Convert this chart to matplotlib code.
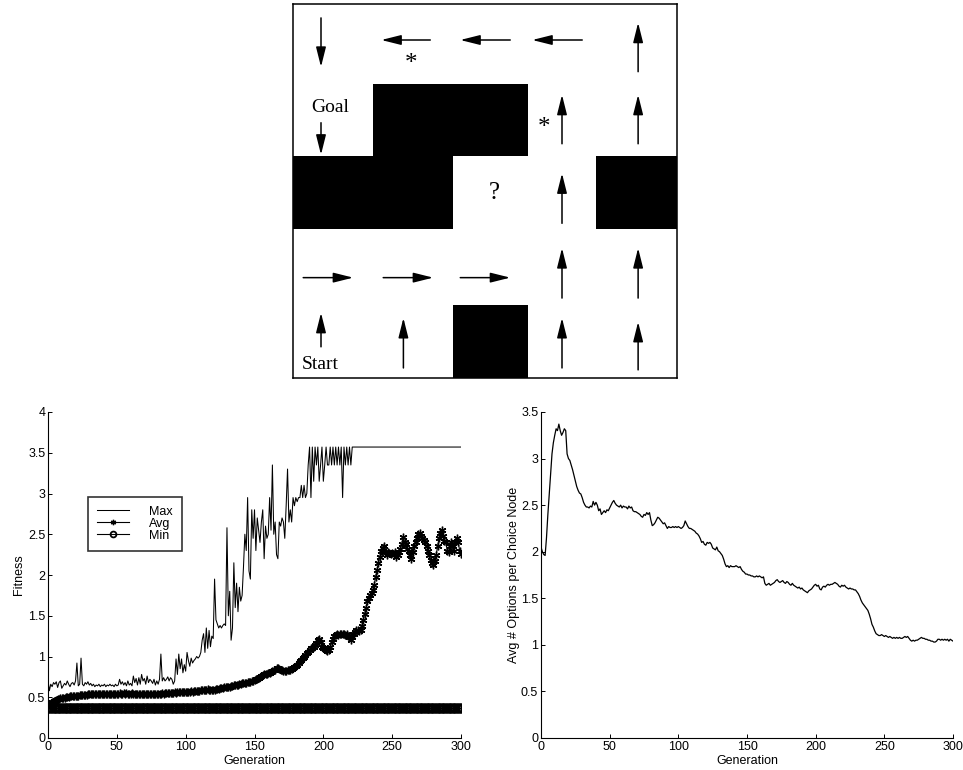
import matplotlib.pyplot as plt
from matplotlib.patches import Rectangle
from matplotlib.ticker import FormatStrFormatter
import numpy as np

plt.rcParams['font.family'] = ['Liberation Sans', 'DejaVu Sans']

# ---- maze (grid world) ----
col_edges = [293, 373, 453, 528, 596, 677]
row_edges = [4, 84, 156, 229, 305, 378]
wall_cells = [(1, 1), (1, 2), (2, 0), (2, 1), (2, 4), (4, 2)]
# row, col, direction, x fraction in cell, y fraction in cell, length (px)
arrow_cells = [
    (0, 0, 'down', 0.35, 0.48, 49), (0, 1, 'left', 0.41, 0.45, 49),
    (0, 2, 'left', 0.43, 0.45, 50), (0, 3, 'left', 0.43, 0.45, 50),
    (0, 4, 'up', 0.52, 0.54, 49), (1, 0, 'down', 0.35, 0.76, 32),
    (1, 3, 'up', 0.50, 0.49, 49), (1, 4, 'up', 0.52, 0.49, 49),
    (2, 3, 'up', 0.50, 0.58, 50), (3, 0, 'right', 0.44, 0.64, 50),
    (3, 1, 'right', 0.44, 0.64, 50), (3, 2, 'right', 0.43, 0.64, 50),
    (3, 3, 'up', 0.50, 0.58, 50), (3, 4, 'up', 0.52, 0.58, 50),
    (4, 0, 'up', 0.35, 0.34, 34), (4, 1, 'up', 0.38, 0.52, 50),
    (4, 3, 'up', 0.50, 0.52, 50), (4, 4, 'up', 0.52, 0.56, 48),
]
# row, col, text, x fraction, y fraction, font size
cell_labels = [(1, 0, 'Goal', 0.46, 0.33, 14), (4, 0, 'Start', 0.34, 0.82, 14),
               (0, 1, '*', 0.48, 0.75, 18), (1, 3, '*', 0.24, 0.61, 18),
               (2, 2, '?', 0.55, 0.51, 18)]

# ---- fitness per generation ----
generations = np.arange(301)
max_fit = [
    0.71, 0.58, 0.66, 0.63, 0.68, 0.66, 0.69, 0.62, 0.68, 0.70,
    0.61, 0.64, 0.67, 0.65, 0.70, 0.66, 0.63, 0.67, 0.68, 0.65,
    0.70, 0.92, 0.64, 0.66, 0.98, 0.66, 0.64, 0.68, 0.66, 0.69,
    0.65, 0.67, 0.64, 0.66, 0.63, 0.65, 0.64, 0.66, 0.63, 0.65,
    0.64, 0.66, 0.63, 0.65, 0.64, 0.66, 0.64, 0.65, 0.63, 0.66,
    0.64, 0.65, 0.72, 0.66, 0.69, 0.65, 0.68, 0.64, 0.70, 0.65,
    0.67, 0.64, 0.76, 0.68, 0.73, 0.65, 0.74, 0.66, 0.78, 0.70,
    0.73, 0.66, 0.76, 0.68, 0.72, 0.70, 0.67, 0.72, 0.65, 0.70,
    0.66, 0.72, 1.03, 0.70, 0.74, 0.70, 0.72, 0.75, 0.70, 0.74,
    0.72, 0.66, 0.70, 0.97, 0.78, 1.03, 0.85, 0.97, 0.80, 0.90,
    0.82, 1.05, 0.95, 0.88, 0.98, 0.92, 0.95, 0.97, 1.00, 0.98,
    1.00, 1.05, 1.20, 1.28, 1.05, 1.35, 1.10, 1.32, 1.12, 1.25,
    1.22, 1.95, 1.45, 1.40, 1.35, 1.38, 1.35, 1.38, 1.40, 1.38,
    2.58, 1.50, 1.80, 1.20, 1.35, 2.15, 1.60, 1.90, 1.55, 1.85,
    1.68, 1.75, 2.10, 2.50, 2.30, 2.95, 2.05, 1.95, 2.80, 2.45,
    2.80, 2.30, 2.70, 2.55, 2.40, 2.65, 2.80, 2.20, 2.60, 2.45,
    2.50, 2.95, 2.55, 3.35, 2.50, 2.65, 2.25, 2.20, 2.65, 2.60,
    2.70, 2.65, 2.45, 2.85, 3.30, 2.65, 2.80, 2.65, 2.95, 2.85,
    2.95, 2.90, 2.95, 2.95, 3.10, 2.95, 3.10, 2.95, 3.00, 3.35,
    3.57, 2.95, 3.57, 3.15, 3.57, 3.35, 3.57, 3.15, 3.35, 3.57,
    3.15, 3.35, 3.57, 3.35, 3.35, 3.57, 3.35, 3.57, 3.35, 3.57,
    3.35, 3.57, 3.35, 3.57, 2.95, 3.57, 3.35, 3.57, 3.35, 3.57,
    3.35, 3.57] + [3.57] * 79
avg_fit = [
    0.38, 0.41, 0.43, 0.44, 0.45, 0.46, 0.47, 0.475, 0.48, 0.485,
    0.49, 0.49, 0.495, 0.50, 0.50, 0.505, 0.51, 0.51, 0.515, 0.515,
    0.52, 0.52, 0.52, 0.525, 0.525, 0.53, 0.53, 0.53, 0.53, 0.535,
    0.535, 0.535, 0.535, 0.54, 0.54, 0.54, 0.54, 0.54, 0.54, 0.54,
    0.54, 0.545, 0.54, 0.545, 0.54, 0.545, 0.545, 0.54, 0.545, 0.545,
    0.545, 0.545, 0.55, 0.545, 0.545, 0.55, 0.545, 0.55, 0.545, 0.545,
    0.545, 0.55, 0.545, 0.545, 0.54, 0.545, 0.545, 0.54, 0.545, 0.54,
    0.545, 0.54, 0.54, 0.545, 0.54, 0.54, 0.545, 0.54, 0.545, 0.545,
    0.54, 0.545, 0.545, 0.55, 0.545, 0.55, 0.55, 0.55, 0.555, 0.55,
    0.555, 0.555, 0.56, 0.555, 0.56, 0.56, 0.565, 0.56, 0.565, 0.565,
    0.57, 0.565, 0.57, 0.57, 0.575, 0.57, 0.575, 0.575, 0.58, 0.58,
    0.58, 0.585, 0.585, 0.59, 0.59, 0.595, 0.60, 0.595, 0.59, 0.59,
    0.595, 0.595, 0.60, 0.60, 0.605, 0.61, 0.61, 0.615, 0.62, 0.62,
    0.625, 0.63, 0.63, 0.635, 0.64, 0.645, 0.65, 0.65, 0.655, 0.66,
    0.665, 0.67, 0.67, 0.675, 0.68, 0.685, 0.69, 0.69, 0.70, 0.705,
    0.71, 0.72, 0.73, 0.74, 0.75, 0.76, 0.77, 0.78, 0.78, 0.79,
    0.80, 0.80, 0.81, 0.82, 0.83, 0.84, 0.86, 0.86, 0.85, 0.84,
    0.83, 0.82, 0.82, 0.82, 0.83, 0.83, 0.84, 0.85, 0.86, 0.87,
    0.88, 0.90, 0.92, 0.94, 0.96, 0.98, 1.00, 1.02, 1.04, 1.06,
    1.08, 1.10, 1.10, 1.12, 1.14, 1.17, 1.20, 1.21, 1.18, 1.12,
    1.10, 1.09, 1.08, 1.07, 1.08, 1.12, 1.18, 1.22, 1.25, 1.26,
    1.27, 1.26, 1.27, 1.28, 1.27, 1.28, 1.26, 1.27, 1.25, 1.24,
    1.20, 1.24, 1.28, 1.30, 1.32, 1.33, 1.31, 1.33, 1.38, 1.45,
    1.52, 1.60, 1.68, 1.72, 1.76, 1.78, 1.82, 1.88, 1.98, 2.06,
    2.15, 2.22, 2.30, 2.33, 2.36, 2.28, 2.25, 2.28, 2.27, 2.26,
    2.27, 2.26, 2.28, 2.22, 2.24, 2.28, 2.32, 2.38, 2.47, 2.40,
    2.38, 2.32, 2.30, 2.25, 2.20, 2.28, 2.35, 2.40, 2.45, 2.50,
    2.52, 2.48, 2.46, 2.43, 2.40, 2.35, 2.30, 2.25, 2.18, 2.15,
    2.12, 2.17, 2.25, 2.35, 2.45, 2.52, 2.55, 2.48, 2.42, 2.40,
    2.30, 2.28, 2.35, 2.41, 2.35, 2.30, 2.40, 2.46, 2.40, 2.30,
    2.26]
min_fit = [0.37] * 301

# ---- average options per choice node ----
avg_options = [
    2.05, 2.00, 1.97, 1.96, 2.15, 2.40, 2.62, 2.85, 3.05, 3.17,
    3.25, 3.32, 3.30, 3.37, 3.30, 3.25, 3.28, 3.32, 3.30, 3.05,
    3.00, 2.98, 2.93, 2.88, 2.82, 2.76, 2.70, 2.66, 2.63, 2.62,
    2.58, 2.53, 2.50, 2.48, 2.48, 2.47, 2.49, 2.48, 2.54, 2.50,
    2.53, 2.50, 2.44, 2.46, 2.40, 2.42, 2.44, 2.42, 2.45, 2.44,
    2.47, 2.50, 2.53, 2.55, 2.52, 2.50, 2.49, 2.48, 2.50, 2.47,
    2.49, 2.48, 2.48, 2.46, 2.49, 2.47, 2.48, 2.44, 2.43, 2.43,
    2.42, 2.41, 2.40, 2.38, 2.37, 2.40, 2.39, 2.42, 2.40, 2.42,
    2.34, 2.28, 2.29, 2.31, 2.34, 2.37, 2.36, 2.34, 2.32, 2.30,
    2.31, 2.28, 2.25, 2.27, 2.26, 2.26, 2.27, 2.26, 2.27, 2.26,
    2.27, 2.26, 2.25, 2.26, 2.28, 2.33, 2.30, 2.27, 2.25, 2.25,
    2.24, 2.23, 2.22, 2.20, 2.19, 2.17, 2.14, 2.10, 2.11, 2.08,
    2.07, 2.10, 2.09, 2.10, 2.08, 2.04, 2.03, 2.02, 2.05, 2.01,
    2.00, 1.98, 1.96, 1.92, 1.87, 1.84, 1.85, 1.83, 1.85, 1.84,
    1.84, 1.84, 1.85, 1.84, 1.83, 1.84, 1.81, 1.79, 1.78, 1.76,
    1.76, 1.75, 1.75, 1.74, 1.74, 1.73, 1.73, 1.74, 1.73, 1.74,
    1.73, 1.72, 1.73, 1.66, 1.64, 1.65, 1.66, 1.64, 1.65, 1.66,
    1.67, 1.69, 1.70, 1.68, 1.67, 1.68, 1.69, 1.67, 1.66, 1.68,
    1.67, 1.65, 1.64, 1.66, 1.64, 1.63, 1.62, 1.61, 1.62, 1.60,
    1.61, 1.59, 1.58, 1.57, 1.56, 1.58, 1.59, 1.60, 1.62, 1.64,
    1.65, 1.63, 1.64, 1.60, 1.59, 1.62, 1.63, 1.62, 1.64, 1.65,
    1.64, 1.65, 1.65, 1.66, 1.67, 1.66, 1.65, 1.63, 1.62, 1.64,
    1.63, 1.64, 1.62, 1.61, 1.60, 1.61, 1.60, 1.60, 1.59, 1.59,
    1.57, 1.55, 1.52, 1.48, 1.45, 1.43, 1.41, 1.39, 1.37, 1.33,
    1.28, 1.22, 1.19, 1.15, 1.12, 1.11, 1.10, 1.10, 1.11, 1.10,
    1.09, 1.10, 1.09, 1.08, 1.09, 1.08, 1.07, 1.08, 1.07, 1.08,
    1.07, 1.08, 1.07, 1.07, 1.08, 1.09, 1.08, 1.09, 1.07, 1.05,
    1.04, 1.05, 1.04, 1.05, 1.05, 1.06, 1.07, 1.08, 1.07, 1.07,
    1.06, 1.06, 1.05, 1.05, 1.04, 1.04, 1.03, 1.03, 1.04, 1.06,
    1.06, 1.05, 1.06, 1.05, 1.06, 1.05, 1.06, 1.04, 1.06, 1.05,
    1.04]

W, H = 963, 770
fig = plt.figure(figsize=(W / 100, H / 100), dpi=100)

# maze panel, data units are image pixels
axm = fig.add_axes([col_edges[0] / W, 1 - row_edges[-1] / H,
                    (col_edges[-1] - col_edges[0]) / W,
                    (row_edges[-1] - row_edges[0]) / H])
axm.set_xlim(col_edges[0], col_edges[-1])
axm.set_ylim(row_edges[-1], row_edges[0])
axm.set_xticks([])
axm.set_yticks([])
for s in axm.spines.values():
    s.set_linewidth(1.1)

for r, c in wall_cells:
    axm.add_patch(Rectangle((col_edges[c], row_edges[r]),
                            col_edges[c + 1] - col_edges[c],
                            row_edges[r + 1] - row_edges[r],
                            color='black', lw=0))

dirs = {'up': (0, -1), 'down': (0, 1), 'left': (-1, 0), 'right': (1, 0)}
for r, c, d, fx, fy, ln in arrow_cells:
    cx = col_edges[c] + fx * (col_edges[c + 1] - col_edges[c])
    cy = row_edges[r] + fy * (row_edges[r + 1] - row_edges[r])
    dx, dy = dirs[d]
    axm.annotate('', xy=(cx + dx * ln / 2, cy + dy * ln / 2),
                 xytext=(cx - dx * ln / 2, cy - dy * ln / 2),
                 arrowprops=dict(arrowstyle='-|>,head_length=1.2,head_width=0.3',
                                 mutation_scale=10, lw=1.1, color='black',
                                 shrinkA=0, shrinkB=0))

for r, c, txt, fx, fy, fs in cell_labels:
    cx = col_edges[c] + fx * (col_edges[c + 1] - col_edges[c])
    cy = row_edges[r] + fy * (row_edges[r + 1] - row_edges[r])
    axm.text(cx, cy, txt, ha='center', va='center', fontsize=fs,
             family='Liberation Serif')


def style_axes(ax):
    ax.spines['top'].set_visible(False)
    ax.spines['right'].set_visible(False)
    for s in ['left', 'bottom']:
        ax.spines[s].set_linewidth(0.8)
    ax.tick_params(direction='in', length=3, width=0.7, labelsize=9, pad=2)
    ax.yaxis.set_major_formatter(FormatStrFormatter('%g'))
    ax.set_xlim(0, 300)
    ax.set_xticks(np.arange(0, 301, 50))
    ax.set_xlabel('Generation', fontsize=9, labelpad=1.5)


# fitness panel
ax1 = fig.add_axes([48 / W, 1 - 738 / H, 413 / W, 326 / H])
ax1.plot(generations, max_fit, color='black', lw=0.75, label='Max')
ax1.plot(generations, avg_fit, color='black', lw=0.8, marker=(6, 2, 0),
         markersize=5.5, markeredgewidth=1.0, label='Avg')
ax1.plot(generations, min_fit, color='black', lw=0.8, marker='o',
         markersize=6, markerfacecolor='none', markeredgewidth=1.3, label='Min')
ax1.set_ylim(0, 4)
ax1.set_yticks(np.arange(0, 4.01, 0.5))
style_axes(ax1)
ax1.set_ylabel('Fitness', fontsize=9, labelpad=2)
leg = ax1.legend(loc='upper left', bbox_to_anchor=(0.097, 0.739),
                 borderaxespad=0, fontsize=9, fancybox=False,
                 handlelength=2.6, handletextpad=1.6, labelspacing=0.0,
                 borderpad=0.7, markerscale=0.7)
leg.get_frame().set_edgecolor('black')
leg.get_frame().set_linewidth(1.2)

# options panel
ax2 = fig.add_axes([541 / W, 1 - 738 / H, 412 / W, 326 / H])
ax2.plot(generations, avg_options, color='black', lw=0.9)
ax2.set_ylim(0, 3.5)
ax2.set_yticks(np.arange(0, 3.51, 0.5))
style_axes(ax2)
ax2.set_ylabel('Avg # Options per Choice Node', fontsize=9, labelpad=1)

fig.savefig('out.png', dpi=100)
